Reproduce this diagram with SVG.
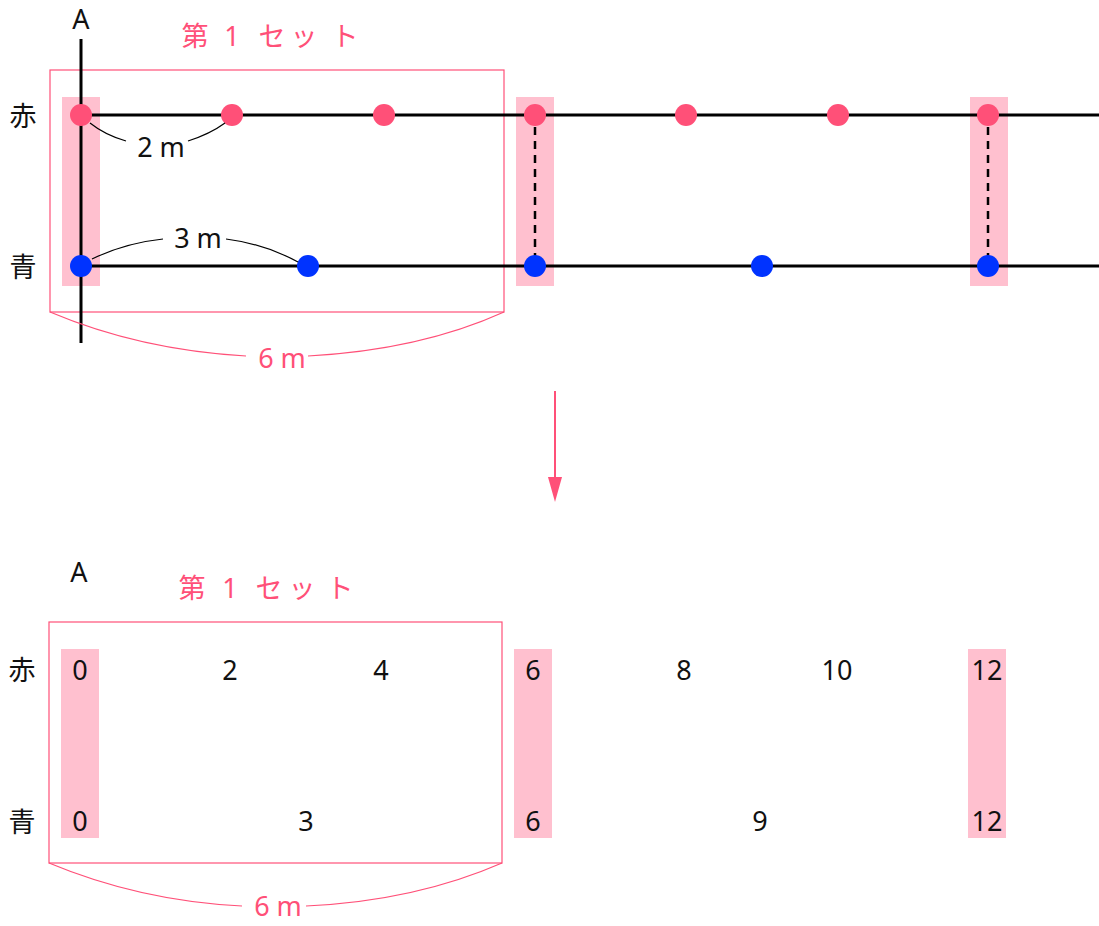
<svg xmlns="http://www.w3.org/2000/svg" width="1099" height="926" viewBox="0 0 1099 926">
<style>
.t{font-family:"Noto Sans","Liberation Sans","Noto Sans CJK JP",sans-serif;font-size:27px;fill:#111;text-anchor:middle}
.p{fill:#ff5078}
.bar{fill:#ffc0cf}
.frame{fill:none;stroke:#ff5078;stroke-width:1.2}
.br{fill:none;stroke:#ff5078;stroke-width:1.2}
.ln{stroke:#000;stroke-width:3}
.dash{stroke:#000;stroke-width:2.5;stroke-dasharray:8 6}
.rd{fill:#ff5078}
.bd{fill:#0033ff}
.cv{fill:none;stroke:#000;stroke-width:1.2}
</style>
<rect width="1099" height="926" fill="#fff"/>

<g id="top">
<g id="bars-top">
<rect class="bar" x="62" y="97" width="38" height="189"/>
<rect class="bar" x="516" y="97" width="38" height="189"/>
<rect class="bar" x="970" y="97" width="38" height="189"/>
</g>
<rect id="frame-top" class="frame" x="50" y="70" width="454" height="242"/>
<g id="lines-top">
<line class="ln" x1="81" y1="39" x2="81" y2="343"/>
<line class="ln" x1="81" y1="115" x2="1099" y2="115"/>
<line class="ln" x1="81" y1="266" x2="1099" y2="266"/>
<line class="dash" x1="535" y1="127" x2="535" y2="256"/>
<line class="dash" x1="988" y1="127" x2="988" y2="256"/>
</g>
<g id="red-dots">
<ellipse class="rd" cx="81" cy="115" rx="11" ry="11"/>
<ellipse class="rd" cx="232" cy="115" rx="11" ry="11"/>
<ellipse class="rd" cx="384" cy="115" rx="11" ry="11"/>
<ellipse class="rd" cx="535" cy="115" rx="11" ry="11"/>
<ellipse class="rd" cx="686" cy="115" rx="11" ry="11"/>
<ellipse class="rd" cx="838" cy="115" rx="11" ry="11"/>
<ellipse class="rd" cx="988" cy="115" rx="11" ry="11"/>
</g>
<g id="blue-dots">
<ellipse class="bd" cx="81" cy="266" rx="11" ry="11"/>
<ellipse class="bd" cx="308" cy="266" rx="11" ry="11"/>
<ellipse class="bd" cx="535" cy="266" rx="11" ry="11"/>
<ellipse class="bd" cx="762" cy="266" rx="11" ry="11"/>
<ellipse class="bd" cx="988" cy="266" rx="11" ry="11"/>
</g>
<g id="dims-top">
<path class="cv" d="M90,123 Q105,135 126,141"/>
<path class="cv" d="M188,141 Q210,134 225,123"/>
<path class="cv" d="M92,259 Q125,243 163,239"/>
<path class="cv" d="M226,239 Q265,244 298,262"/>
<path class="br" d="M50,312 Q140,350 246,356"/>
<path class="br" d="M308,356 Q420,350 504,312"/>
</g>
<text class="t" x="81" y="29">A</text>
<text class="t" x="23" y="126">赤</text>
<text class="t" x="23" y="277">青</text>
<text class="t" x="161" y="157">2 m</text>
<text class="t" x="198" y="248">3 m</text>
<text class="t p" x="282" y="368">6 m</text>
<text class="t p" x="195 232 272 304 345" y="46">第1セット</text>
</g>

<g id="connectors">
<line x1="555" y1="391" x2="555" y2="480" stroke="#ff5078" stroke-width="2"/>
<path d="M548,477 L562,477 L555,502 Z" fill="#ff5078"/>
</g>

<g id="bottom">
<g id="bars-bottom">
<rect class="bar" x="61" y="649" width="38" height="189"/>
<rect class="bar" x="514" y="649" width="38" height="189"/>
<rect class="bar" x="968" y="649" width="38" height="189"/>
</g>
<rect id="frame-bottom" class="frame" x="49" y="622" width="453" height="241"/>
<path class="br" d="M49,863 Q140,901 242,906"/>
<path class="br" d="M306,906 Q415,901 502,863"/>
<text class="t" x="79" y="582">A</text>
<text class="t p" x="192 230 269 302 340" y="598">第1セット</text>
<text class="t" x="22" y="680">赤</text>
<text class="t" x="22" y="832">青</text>
<text class="t" x="80" y="680">0</text>
<text class="t" x="230" y="680">2</text>
<text class="t" x="381" y="680">4</text>
<text class="t" x="533" y="680">6</text>
<text class="t" x="684" y="680">8</text>
<text class="t" x="837" y="680">10</text>
<text class="t" x="987" y="680">12</text>
<text class="t" x="80" y="831">0</text>
<text class="t" x="306" y="831">3</text>
<text class="t" x="533" y="831">6</text>
<text class="t" x="760" y="831">9</text>
<text class="t" x="987" y="831">12</text>
<text class="t p" x="278" y="916">6 m</text>
</g>
</svg>
